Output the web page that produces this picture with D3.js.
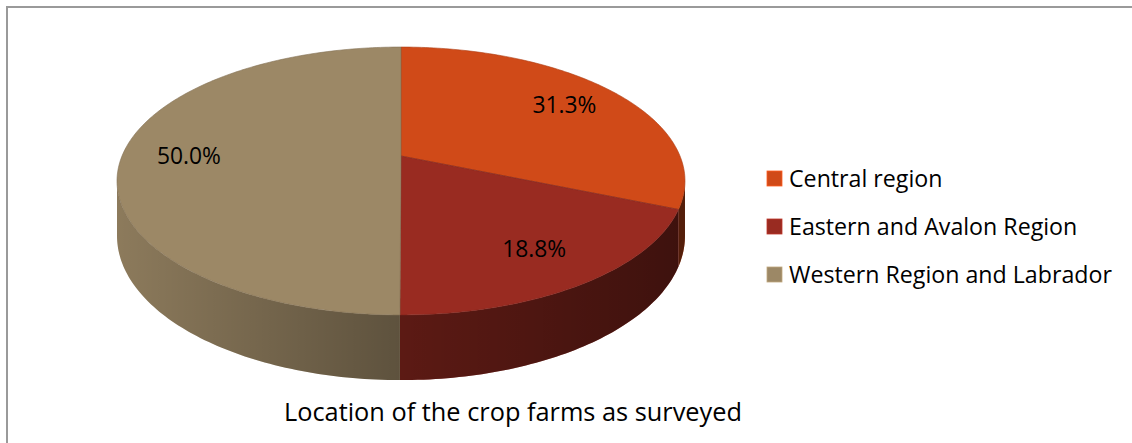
<!DOCTYPE html>
<html>
<head>
<meta charset="utf-8">
<script src="https://cdn.jsdelivr.net/npm/d3@7"></script>
<style>
  html, body { margin: 0; padding: 0; background: #fff; }
  svg { display: block; }
  text { font-family: "Open Sans", "Noto Sans", sans-serif; fill: #000; }
</style>
</head>
<body>
<svg id="chart" width="1132" height="443"></svg>
<script>
// Survey data: share of crop farms by region (percent)
const categories = ["Central region", "Eastern and Avalon Region", "Western Region and Labrador"];
const shares = [31.3, 18.8, 50.0];
const labels = ["31.3%", "18.8%", "50.0%"];
const topColors = ["#d04a18", "#992b21", "#9c8866"];
const chartTitle = "Location of the crop farms as surveyed";

const svg = d3.select("#chart");
const W = 1132, H = 443;

// frame
svg.append("rect")
  .attr("x", 7).attr("y", 7).attr("width", W + 20).attr("height", H + 20)
  .attr("fill", "none").attr("stroke", "#9a9a9a").attr("stroke-width", 2);

// 3D tilted disc with perspective: far side compressed
const geo = { cx: 401, cy: 156, a: 279, b: 129.3, k: 0.1866, h: 53 };

function proj(theta, r, bottom) {
  const u = r * Math.sin(theta), v = r * Math.cos(theta);
  const w = 1 + geo.k * v;
  return [geo.cx + geo.a * u / w,
          geo.cy - geo.b * v / w + (bottom ? geo.h / w : 0)];
}

function arcPoints(a0, a1, bottom) {
  const n = Math.max(2, Math.ceil(Math.abs(a1 - a0) / (Math.PI / 180)));
  return d3.range(n + 1).map(i => proj(a0 + (a1 - a0) * i / n, 1, bottom));
}

const pie = d3.pie().sort(null).value(d => d);
const arcs = pie(shares);
const line = d3.line();

// visible part of the wall: where it faces the viewer
const visStart = Math.acos(-geo.k);
const visEnd = 2 * Math.PI - visStart;

const defs = svg.append("defs");
const shade = defs.append("linearGradient")
  .attr("id", "wallShade").attr("gradientUnits", "userSpaceOnUse")
  .attr("x1", geo.cx - geo.a * 1.02).attr("x2", geo.cx + geo.a * 1.02)
  .attr("y1", 0).attr("y2", 0);
shade.append("stop").attr("offset", 0).attr("stop-color", "#000").attr("stop-opacity", 0.1);
shade.append("stop").attr("offset", 0.5).attr("stop-color", "#000").attr("stop-opacity", 0.4);
shade.append("stop").attr("offset", 1).attr("stop-color", "#000").attr("stop-opacity", 0.6);

const walls = svg.append("g");
arcs.forEach((d, i) => {
  const s = Math.max(d.startAngle, visStart), e = Math.min(d.endAngle, visEnd);
  if (e <= s) return;
  const pts = arcPoints(s, e, false).concat(arcPoints(e, s, true));
  const p = line(pts) + "Z";
  walls.append("path").attr("d", p).attr("fill", topColors[i]);
  walls.append("path").attr("d", p).attr("fill", "url(#wallShade)");
});

// top face
const tops = svg.append("g");
arcs.forEach((d, i) => {
  const pts = [proj(0, 0, false)].concat(arcPoints(d.startAngle, d.endAngle, false));
  tops.append("path")
    .attr("d", line(pts) + "Z")
    .attr("fill", topColors[i])
    .attr("stroke", d3.color(topColors[i]).darker(0.5))
    .attr("stroke-opacity", 0.6)
    .attr("stroke-width", 1);
});

// fit a text element's font size to a target width
function fit(sel, width) {
  const node = sel.node();
  const fs = parseFloat(sel.attr("font-size"));
  const len = node.getComputedTextLength();
  sel.attr("font-size", fs * width / len);
}

// data labels
arcs.forEach((d, i) => {
  const mid = (d.startAngle + d.endAngle) / 2;
  const [x, y] = proj(mid, 0.76, false);
  const t = svg.append("text")
    .attr("x", x).attr("y", y + 8)
    .attr("text-anchor", "middle")
    .attr("font-size", 21)
    .text(labels[i]);
  fit(t, 64);
});

// legend
const legend = svg.append("g").attr("transform", "translate(767,171)");
categories.forEach((c, i) => {
  const g = legend.append("g").attr("transform", `translate(0,${i * 48})`);
  g.append("rect").attr("width", 15).attr("height", 15)
    .attr("fill", topColors[i])
    .attr("stroke", d3.color(topColors[i]).brighter(0.6)).attr("stroke-width", 0.8);
  const t = g.append("text").attr("x", 22).attr("y", 16)
    .attr("font-size", 20).text(c);
  if (i === 2) fit(t, 323);
});
// same size for all legend entries
const lfs = legend.selectAll("text").filter((d, i) => i === 2).attr("font-size");
legend.selectAll("text").attr("font-size", lfs);

// title
const tt = svg.append("text")
  .attr("x", 513).attr("y", 421)
  .attr("text-anchor", "middle")
  .attr("font-size", 22)
  .text(chartTitle);
fit(tt, 458);
</script>
</body>
</html>
